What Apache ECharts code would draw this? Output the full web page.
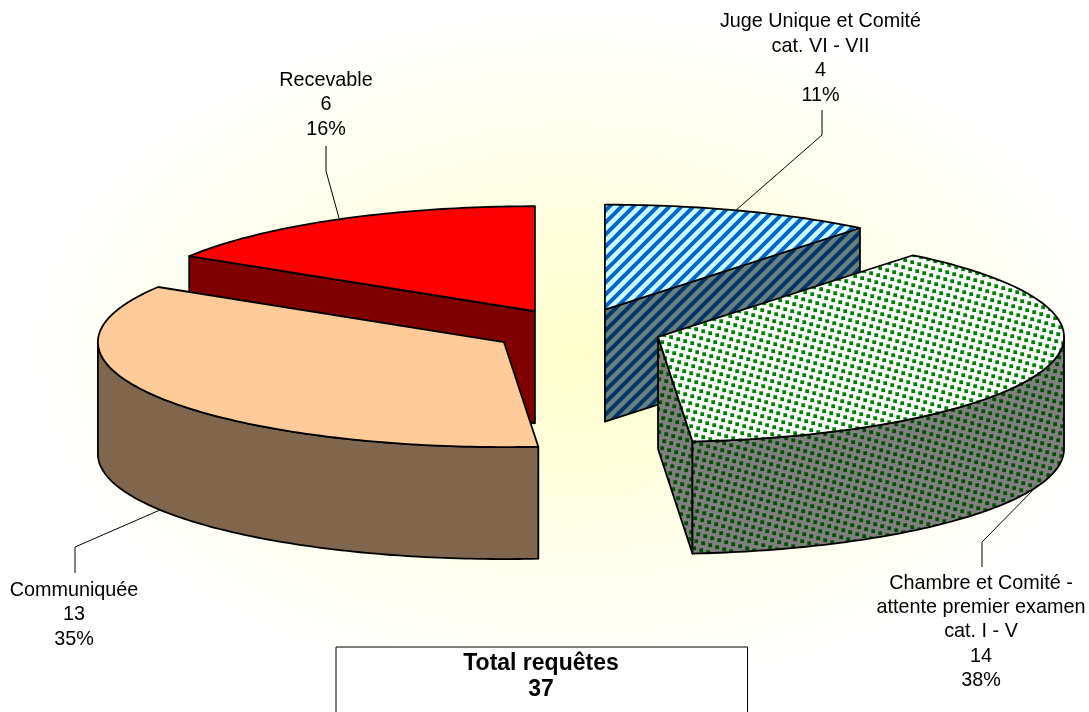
<!DOCTYPE html>
<html>
<head>
<meta charset="utf-8">
<style>
  html, body { margin: 0; padding: 0; background: #fff; overflow: hidden; }
  #chart { width: 1089px; height: 712px; }
</style>
</head>
<body>
<div id="chart"></div>
<script src="https://cdn.jsdelivr.net/npm/echarts@6/dist/echarts.min.js"></script>
<script>
// donnees du graphique
const categories = [
  'Juge Unique et Comité\ncat. VI - VII',
  'Chambre et Comité -\nattente premier examen\ncat. I - V',
  'Communiquée',
  'Recevable'
]
const requetes = [4, 14, 13, 6]
const totalTitle = 'Total requêtes'

// mise en page du camembert 3D
const pie = { cx: 576.5, cy: 330.5, a: 406, b: 105, depth: 112, explode: 0.21 }
const labelPos = [[820.5, 58.5], [981, 632], [74, 615], [326, 105]]
const leaders = [
  [[822, 110], [822, 135], [735, 211]],
  [[982, 567], [982, 542], [1040, 483]],
  [[75, 573], [75, 547], [160, 510]],
  [[326, 146], [326, 171], [339, 218]]
]

function makeTile(size, paint) {
  const c = document.createElement('canvas')
  c.width = size
  c.height = size
  paint(c.getContext('2d'), size)
  return c
}
function stripes(bg, fg) {
  return makeTile(12, function (g, s) {
    g.fillStyle = bg
    g.fillRect(0, 0, s, s)
    g.strokeStyle = fg
    g.lineWidth = 4
    for (let k = -s; k <= s; k += s) {
      g.beginPath()
      g.moveTo(k - 2, s + 2)
      g.lineTo(k + s + 2, -2)
      g.stroke()
    }
  })
}
// points sur une grille legerement inclinee, comme la trame d'origine
function dots(bg, fg) {
  return makeTile(53, function (g, s) {
    g.fillStyle = bg
    g.fillRect(0, 0, s, s)
    g.fillStyle = fg
    for (let i = -10; i <= 16; i++) {
      for (let j = -10; j <= 16; j++) {
        g.fillRect(7 * i - 2 * j + 0.3, 2 * i + 7 * j + 0.3, 3.8, 3.8)
      }
    }
  })
}
function pattern(tile) {
  return { image: tile, repeat: 'repeat' }
}

// couleurs dessus / flanc de chaque part
const topFills = [pattern(stripes('#CCFFFF', '#0066CC')), pattern(dots('#FFFFFF', '#008000')), '#FFCC99', '#FF0000']
const wallFills = [pattern(stripes('#668080', '#003366')), pattern(dots('#808080', '#005000')), '#80664D', '#800000']
const drawZ = [1, 20, 30, 10]

const total = requetes.reduce(function (s, v) { return s + v }, 0)
const rows = requetes.map(function (v, i) {
  const before = requetes.slice(0, i).reduce(function (s, x) { return s + x }, 0)
  return [i, v, before]
})

function renderSlice(params, api) {
  const i = api.value(0)
  const value = api.value(1)
  const t0 = api.value(2) / total * Math.PI * 2
  const t1 = t0 + value / total * Math.PI * 2
  const mid = (t0 + t1) / 2
  // centre de la part, decale le long de la bissectrice
  const ox = pie.cx + pie.a * pie.explode * Math.sin(mid)
  const oy = pie.cy - pie.b * pie.explode * Math.cos(mid)
  const at = function (t, dy) {
    return [ox + pie.a * Math.sin(t), oy - pie.b * Math.cos(t) + (dy || 0)]
  }
  const arc = function (from, to, dy) {
    const n = Math.max(2, Math.ceil((to - from) * 60))
    const pts = []
    for (let k = 0; k <= n; k++) pts.push(at(from + (to - from) * k / n, dy))
    return pts
  }
  const edge = { stroke: '#000', lineWidth: 1.8, lineJoin: 'round' }
  const z = drawZ[i]
  const children = []
  const face = function (t) {
    children.push({
      type: 'polygon', z2: z,
      shape: { points: [[ox, oy], at(t), at(t, pie.depth), [ox, oy + pie.depth]] },
      style: Object.assign({ fill: wallFills[i] }, edge)
    })
  }
  if (Math.sin(t0) < -0.001) face(t0)
  if (Math.sin(t1) > 0.001) face(t1)
  // flanc exterieur : seulement la partie tournee vers l'avant
  const w0 = Math.max(t0, Math.PI / 2)
  const w1 = Math.min(t1, Math.PI * 1.5)
  if (w1 > w0) {
    children.push({
      type: 'polygon', z2: z + 1,
      shape: { points: arc(w0, w1, 0).concat(arc(w0, w1, pie.depth).reverse()) },
      style: Object.assign({ fill: wallFills[i] }, edge)
    })
  }
  children.push({
    type: 'polygon', z2: z + 2,
    shape: { points: [[ox, oy]].concat(arc(t0, t1, 0)) },
    style: Object.assign({ fill: topFills[i] }, edge)
  })
  // trait de rappel et etiquette
  children.push({
    type: 'polyline', z2: 0,
    shape: { points: leaders[i] },
    style: { fill: null, stroke: '#000', lineWidth: 1 }
  })
  children.push({
    type: 'text', z2: 50,
    style: {
      x: labelPos[i][0],
      y: labelPos[i][1],
      text: categories[i] + '\n' + value + '\n' + Math.round(value / total * 100) + '%',
      fill: '#000',
      font: '19.8px "Liberation Sans", Arial, sans-serif',
      lineHeight: 24.4,
      align: 'center',
      verticalAlign: 'middle'
    }
  })
  return { type: 'group', children: children }
}

const chart = echarts.init(document.getElementById('chart'), null, { renderer: 'canvas' })
chart.setOption({
  animation: false,
  backgroundColor: '#fff',
  graphic: [
    {
      // fond degrade jaune pale
      type: 'circle', z: -10, x: 575, y: 350, scaleX: 1.6, scaleY: 1,
      shape: { cx: 0, cy: 0, r: 345 },
      style: {
        fill: new echarts.graphic.RadialGradient(0.5, 0.5, 0.5, [
          { offset: 0, color: '#FFFFCC' },
          { offset: 1, color: '#FFFFFF' }
        ])
      }
    },
    {
      type: 'rect', z: 10,
      shape: { x: 336, y: 647, width: 411.5, height: 90 },
      style: { fill: '#fff', stroke: '#000', lineWidth: 1 }
    },
    {
      type: 'text', z: 11,
      style: {
        x: 541, y: 677,
        text: totalTitle + '\n' + total,
        fill: '#000',
        font: 'bold 23px "Liberation Sans", Arial, sans-serif',
        lineHeight: 26,
        align: 'center',
        verticalAlign: 'middle'
      }
    }
  ],
  series: [
    {
      type: 'custom',
      coordinateSystem: 'none',
      renderItem: renderSlice,
      data: rows,
      silent: true
    }
  ]
})
</script>
</body>
</html>
